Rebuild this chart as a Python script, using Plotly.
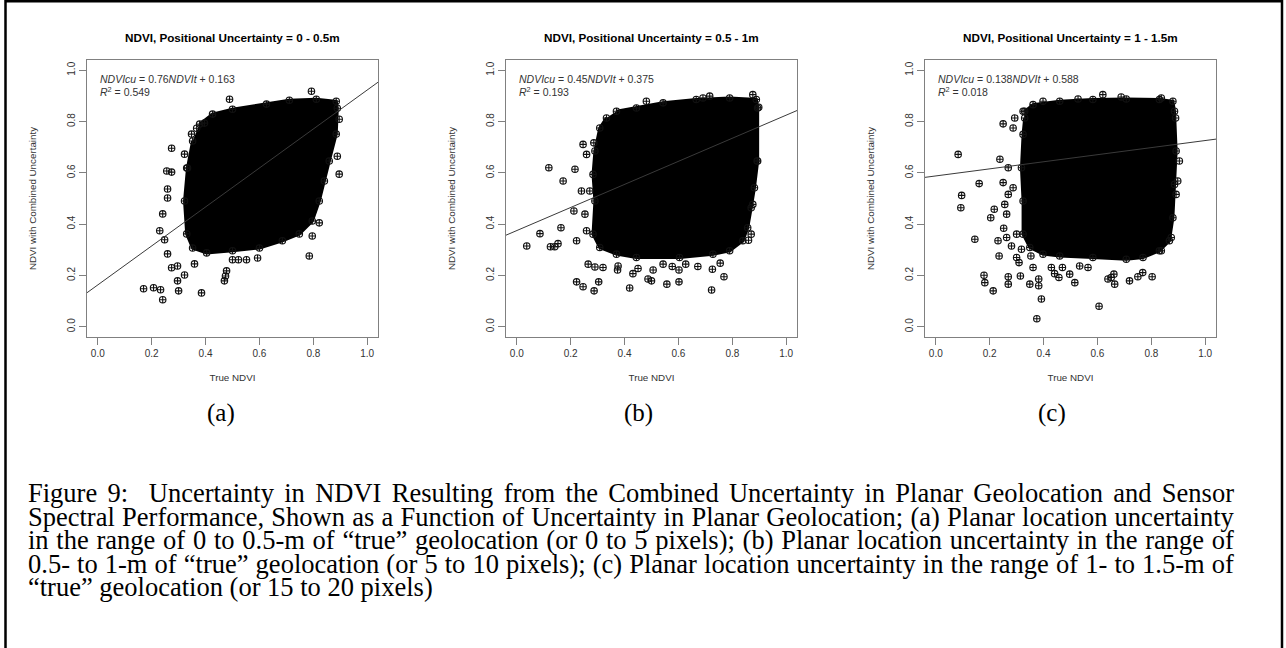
import plotly.graph_objects as go

# ---------------------------------------------------------------- data
panel_titles = [
    "NDVI, Positional Uncertainty = 0 - 0.5m",
    "NDVI, Positional Uncertainty = 0.5 - 1m",
    "NDVI, Positional Uncertainty = 1 - 1.5m",
]
panel_letters = ["(a)", "(b)", "(c)"]

fit_slope = [0.76, 0.45, 0.138]
fit_intercept = [0.163, 0.375, 0.588]
fit_r2 = ["0.549", "0.193", "0.018"]
fit_slope_text = ["0.76", "0.45", "0.138"]
fit_intercept_text = ["0.163", "0.375", "0.588"]

tick_values = [0.0, 0.2, 0.4, 0.6, 0.8, 1.0]
tick_labels = ["0.0", "0.2", "0.4", "0.6", "0.8", "1.0"]
axis_range = [-0.04, 1.04]

# outline of the saturated point cloud (true NDVI, NDVI with uncertainty)
core_a_x = [0.378, 0.426, 0.500, 0.626, 0.711, 0.811, 0.885, 0.889, 0.885, 0.859, 0.841, 0.822,
            0.796, 0.748, 0.685, 0.600, 0.500, 0.404, 0.352, 0.330, 0.322, 0.333, 0.352]
core_a_y = [0.790, 0.829, 0.848, 0.868, 0.883, 0.887, 0.879, 0.852, 0.751, 0.646, 0.568, 0.490,
            0.412, 0.362, 0.335, 0.307, 0.296, 0.288, 0.307, 0.362, 0.490, 0.619, 0.724]

core_b_x = [0.370, 0.444, 0.543, 0.666, 0.790, 0.889, 0.894, 0.894, 0.882, 0.870, 0.857, 0.839,
            0.790, 0.728, 0.604, 0.444, 0.370, 0.308, 0.283, 0.290, 0.283, 0.290, 0.308, 0.333]
core_b_y = [0.840, 0.853, 0.873, 0.886, 0.892, 0.886, 0.853, 0.646, 0.542, 0.464, 0.386, 0.335,
            0.296, 0.283, 0.270, 0.270, 0.283, 0.309, 0.361, 0.490, 0.594, 0.685, 0.775, 0.814]

core_c_x = [0.330, 0.361, 0.460, 0.583, 0.707, 0.830, 0.880, 0.886, 0.892, 0.886, 0.880, 0.867,
            0.830, 0.769, 0.707, 0.583, 0.460, 0.398, 0.349, 0.324, 0.324, 0.318, 0.324, 0.330]
core_c_y = [0.840, 0.866, 0.879, 0.886, 0.888, 0.886, 0.879, 0.840, 0.685, 0.555, 0.425, 0.335,
            0.296, 0.270, 0.263, 0.270, 0.276, 0.283, 0.309, 0.361, 0.490, 0.620, 0.750, 0.814]

# individual pixels lying outside the saturated cloud
pts_a_x = [0.489, 0.793, 0.274, 0.256, 0.274, 0.259, 0.259, 0.241, 0.230, 0.248, 0.259, 0.274,
           0.296, 0.322, 0.296, 0.170, 0.207, 0.233, 0.241, 0.300, 0.385, 0.470, 0.474, 0.478,
           0.500, 0.522, 0.552, 0.593, 0.785, 0.796, 0.822, 0.896, 0.889, 0.896, 0.322, 0.330,
           0.348, 0.367, 0.396, 0.359]
pts_a_y = [0.887, 0.918, 0.696, 0.607, 0.603, 0.537, 0.502, 0.440, 0.374, 0.339, 0.284, 0.230,
           0.237, 0.202, 0.179, 0.148, 0.152, 0.144, 0.105, 0.140, 0.132, 0.179, 0.198, 0.218,
           0.261, 0.261, 0.261, 0.268, 0.276, 0.354, 0.405, 0.595, 0.665, 0.809, 0.673, 0.619,
           0.751, 0.774, 0.794, 0.245]

pts_b_x = [0.037, 0.086, 0.119, 0.125, 0.141, 0.153, 0.164, 0.172, 0.216, 0.212, 0.222, 0.222,
           0.246, 0.287, 0.304, 0.265, 0.290, 0.320, 0.376, 0.374, 0.419, 0.431, 0.450, 0.487,
           0.500, 0.506, 0.543, 0.557, 0.577, 0.602, 0.602, 0.627, 0.672, 0.726, 0.723, 0.755,
           0.769, 0.860, 0.870, 0.876, 0.892, 0.898, 0.876, 0.716, 0.691, 0.481, 0.286, 0.246,
           0.259, 0.240, 0.253, 0.259, 0.271]
pts_b_y = [0.315, 0.363, 0.620, 0.312, 0.312, 0.324, 0.386, 0.568, 0.614, 0.451, 0.335, 0.175,
           0.156, 0.140, 0.175, 0.244, 0.233, 0.231, 0.237, 0.221, 0.151, 0.207, 0.227, 0.186,
           0.179, 0.221, 0.244, 0.166, 0.235, 0.221, 0.175, 0.244, 0.235, 0.224, 0.143, 0.248,
           0.195, 0.337, 0.361, 0.477, 0.646, 0.856, 0.905, 0.899, 0.892, 0.879, 0.717, 0.711,
           0.672, 0.529, 0.439, 0.374, 0.529]

pts_c_x = [0.083, 0.096, 0.093, 0.145, 0.161, 0.179, 0.182, 0.213, 0.204, 0.217, 0.238, 0.231,
           0.235, 0.252, 0.263, 0.269, 0.269, 0.263, 0.256, 0.269, 0.250, 0.269, 0.281, 0.287,
           0.300, 0.300, 0.309, 0.314, 0.318, 0.349, 0.353, 0.382, 0.382, 0.392, 0.361, 0.429,
           0.441, 0.457, 0.470, 0.497, 0.516, 0.534, 0.565, 0.639, 0.651, 0.664, 0.661, 0.719,
           0.750, 0.768, 0.803, 0.837, 0.874, 0.892, 0.898, 0.904, 0.890, 0.837, 0.688, 0.620,
           0.528, 0.398, 0.324, 0.293, 0.287, 0.250, 0.375, 0.606]
pts_c_y = [0.672, 0.512, 0.464, 0.341, 0.558, 0.201, 0.172, 0.140, 0.425, 0.458, 0.653, 0.335,
           0.276, 0.384, 0.348, 0.195, 0.166, 0.439, 0.477, 0.516, 0.562, 0.620, 0.315, 0.542,
           0.361, 0.270, 0.250, 0.198, 0.302, 0.166, 0.276, 0.186, 0.160, 0.108, 0.231, 0.231,
           0.207, 0.192, 0.231, 0.205, 0.172, 0.237, 0.231, 0.186, 0.192, 0.166, 0.205, 0.179,
           0.195, 0.211, 0.195, 0.296, 0.348, 0.516, 0.568, 0.646, 0.814, 0.892, 0.896, 0.905,
           0.888, 0.879, 0.840, 0.814, 0.775, 0.791, 0.031, 0.080]

caption_lines = [
    "Figure 9:  Uncertainty in NDVI Resulting from the Combined Uncertainty in Planar Geolocation and Sensor",
    "Spectral Performance, Shown as a Function of Uncertainty in Planar Geolocation; (a) Planar location uncertainty",
    "in the range of 0 to 0.5-m of \u201ctrue\u201d geolocation (or 0 to 5 pixels); (b) Planar location uncertainty in the range of",
    "0.5- to 1-m of \u201ctrue\u201d geolocation (or 5 to 10 pixels); (c) Planar location uncertainty in the range of 1- to 1.5-m of",
    "\u201ctrue\u201d geolocation (or 15 to 20 pixels)",
]
caption_justified = [True, True, True, True, False]

cores = [(core_a_x, core_a_y), (core_b_x, core_b_y), (core_c_x, core_c_y)]
points = [(pts_a_x, pts_a_y), (pts_b_x, pts_b_y), (pts_c_x, pts_c_y)]

# ---------------------------------------------------------------- layout geometry (pixels)
W, H = 1286, 648
box_left = [87, 506, 925]
box_width = 291
box_top, box_bottom = 60, 337
letter_x = [221, 638, 1052]
caption_left, caption_right = 27, 1233
caption_y = [493, 516.5, 540, 563.5, 587]
caption_size = 26.5

SANS = "Liberation Sans, Arial, sans-serif"
SERIF = "Liberation Serif, Times New Roman, serif"
INK = "#333333"
AXIS = "#808080"
MARK = "#111111"

# Times advance widths (1/1000 em), used to work out the word spacing of justified lines
_times = {" ": 250, "(": 333, ")": 333, ",": 250, "-": 333, ".": 250, ":": 278, ";": 278,
          "\u201c": 444, "\u201d": 444}
_times.update({d: 500 for d in "0123456789"})
_times.update(dict(zip("ABCDEFGHIJKLMNOPQRSTUVWXYZ",
                       [722, 667, 667, 722, 611, 556, 722, 722, 333, 389, 722, 611, 889,
                        722, 722, 556, 722, 667, 556, 611, 722, 722, 944, 722, 722, 611])))
_times.update(dict(zip("abcdefghijklmnopqrstuvwxyz",
                       [444, 500, 444, 500, 444, 333, 500, 500, 278, 278, 500, 278, 778,
                        500, 500, 500, 500, 333, 389, 278, 500, 500, 722, 500, 500, 444])))


def text_width(s, size):
    return sum(_times.get(ch, 500) for ch in s) * size / 1000.0


def px(x):
    return x / W


def py(y):
    return 1 - y / H


fig = go.Figure()
layout = dict(
    width=W, height=H,
    margin=dict(l=0, r=0, t=0, b=0),
    paper_bgcolor="white", plot_bgcolor="white",
    showlegend=False,
    annotations=[], shapes=[],
)

marker_style = dict(symbol="circle-cross-open", size=6.5, color=MARK, line=dict(width=1.1, color=MARK))

for i in range(3):
    sfx = "" if i == 0 else str(i + 1)
    xa, ya = "x" + sfx, "y" + sfx
    cx, cy = cores[i]
    ox, oy = points[i]

    # saturated cloud
    fig.add_trace(go.Scatter(
        x=cx, y=cy, xaxis=xa, yaxis=ya, mode="lines+markers", fill="toself",
        fillcolor="black", line=dict(color="black", width=3),
        marker=marker_style, hoverinfo="skip",
    ))
    # scattered pixels
    fig.add_trace(go.Scatter(
        x=ox, y=oy, xaxis=xa, yaxis=ya, mode="markers",
        marker=marker_style, hoverinfo="skip",
    ))
    # least-squares line across the whole panel
    fx = axis_range
    fy = [fit_slope[i] * v + fit_intercept[i] for v in fx]
    fig.add_trace(go.Scatter(
        x=fx, y=fy, xaxis=xa, yaxis=ya, mode="lines",
        line=dict(color="#3a3a3a", width=1), hoverinfo="skip",
    ))

    common = dict(
        range=axis_range, tickvals=tick_values, ticktext=tick_labels,
        ticks="outside", ticklen=7, tickcolor=AXIS, tickwidth=1,
        showline=True, mirror=True, linecolor=AXIS, linewidth=1,
        showgrid=False, zeroline=False,
        tickfont=dict(family=SANS, size=10, color=INK),
    )
    layout["xaxis" + sfx] = dict(
        common, anchor=ya,
        domain=[px(box_left[i]), px(box_left[i] + box_width)],
        title=dict(text="True NDVI", font=dict(family=SANS, size=9.8, color=INK), standoff=16),
    )
    layout["yaxis" + sfx] = dict(
        common, anchor=xa, tickangle=-90,
        domain=[py(box_bottom), py(box_top)],
        title=dict(text="NDVI with Combined Uncertainty", font=dict(family=SANS, size=9.8, color=INK), standoff=27),
    )

    centre = box_left[i] + box_width / 2
    layout["annotations"].append(dict(
        text="<b>" + panel_titles[i] + "</b>", x=px(centre), y=py(37), xref="paper", yref="paper",
        showarrow=False, xanchor="center", yanchor="middle",
        font=dict(family=SANS, size=11.7, color="black"),
    ))
    layout["annotations"].append(dict(
        text="<i>NDVIcu</i> = " + fit_slope_text[i] + "<i>NDVIt</i> + " + fit_intercept_text[i],
        x=0.0, y=0.965, xref=xa, yref=ya, showarrow=False, xanchor="left", yanchor="middle",
        font=dict(family=SANS, size=10.5, color=INK),
    ))
    layout["annotations"].append(dict(
        text="<i>R</i><sup>2</sup> = " + fit_r2[i],
        x=0.0, y=0.918, xref=xa, yref=ya, showarrow=False, xanchor="left", yanchor="middle",
        font=dict(family=SANS, size=10.5, color=INK),
    ))
    layout["annotations"].append(dict(
        text=panel_letters[i], x=px(letter_x[i]), y=py(413), xref="paper", yref="paper",
        showarrow=False, xanchor="center", yanchor="middle",
        font=dict(family=SERIF, size=25, color="black"),
    ))

# caption: one text per line, full lines justified through extra word spacing
for line, yy, just in zip(caption_lines, caption_y, caption_justified):
    gaps = line.count(" ")
    natural = text_width(line, caption_size)
    extra = (caption_right - caption_left - natural) / gaps if (just and gaps) else 0.0
    layout["annotations"].append(dict(
        text='<span style="word-spacing:%.2fpx">%s</span>' % (extra, line),
        x=px(caption_left), y=py(yy), xref="paper", yref="paper",
        showarrow=False, xanchor="left", yanchor="middle", borderpad=0,
        font=dict(family=SERIF, size=caption_size, color="black"),
    ))

# page frame
layout["shapes"].append(dict(
    type="rect", xref="paper", yref="paper",
    x0=px(5.5), x1=px(1282), y0=-0.05, y1=py(1.2),
    line=dict(color="black", width=2.5), fillcolor="rgba(0,0,0,0)", layer="above",
))

fig.update_layout(**layout)
fig.write_html("out.html")
